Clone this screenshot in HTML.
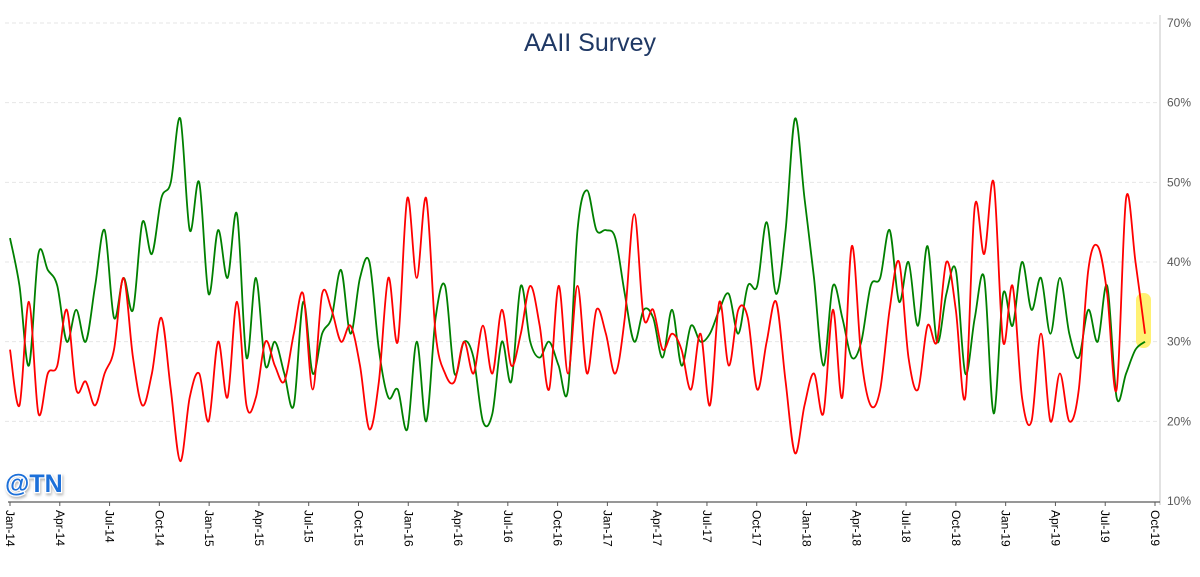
<!DOCTYPE html>
<html><head><meta charset="utf-8">
<style>
html,body{margin:0;padding:0;background:#fff;}
svg{display:block;font-family:"Liberation Sans",sans-serif;}
</style></head>
<body>
<svg id="chart" width="1200" height="577" viewBox="0 0 1200 577">
<defs><filter id="sh" x="-10%" y="-10%" width="130%" height="140%"><feDropShadow dx="1" dy="2" stdDeviation="1.2" flood-color="#888" flood-opacity="0.6"/></filter></defs>
<text x="590" y="51" text-anchor="middle" font-size="25" fill="#1f3864">AAII Survey</text>
<line x1="1160" y1="15" x2="1160" y2="505" stroke="#d9d9d9" stroke-width="1.5"/>
<g id="grid"></g>
<g id="yticks"></g>
<line x1="8" y1="502" x2="1160" y2="502" stroke="#595959" stroke-width="1.3"/>
<g id="xticks"></g>
<rect x="1136" y="293" width="15" height="55" rx="7" fill="#ffef5a" opacity="0.85"/>
<path id="greenLine" fill="none" stroke="#008000" stroke-width="1.8"/>
<path id="redLine" fill="none" stroke="#ff0000" stroke-width="1.8"/>
<text x="5" y="492" font-size="25" font-weight="bold" fill="#1e6fd9" stroke="#fff" stroke-width="2.5" paint-order="stroke" filter="url(#sh)">@TN</text>
</svg>
<script>
const yTickValues = [10,20,30,40,50,60,70];
const xTickLabels = ["Jan-14","Apr-14","Jul-14","Oct-14","Jan-15","Apr-15","Jul-15","Oct-15","Jan-16","Apr-16","Jul-16","Oct-16","Jan-17","Apr-17","Jul-17","Oct-17","Jan-18","Apr-18","Jul-18","Oct-18","Jan-19","Apr-19","Jul-19","Oct-19"];
const bullish = [43,37,27,41,39,37,30,34,30,37,44,33,38,34,45,41,48,50,58,44,50,36,44,38,46,28,38,27,30,26,22,35,26,31,33,39,31,38,40,29,23,24,19,30,20,33,37,26,30,28,20,21,30,25,37,30,28,30,27,24,44,49,44,44,43,36,30,34,33,28,34,27,32,30,31,34,36,31,37,37,45,36,44,58,48,38,27,37,33,28,30,37,38,44,35,40,32,42,30,36,39,26,33,38,21,36,32,40,34,38,31,38,31,28,34,30,37,23,26,29,30];
const bearish = [29,22,35,21,26,27,34,24,25,22,26,29,38,28,22,26,33,24,15,23,26,20,30,23,35,22,23,30,27,25,31,36,24,36,34,30,32,27,19,25,38,30,48,38,48,31,26,25,30,26,32,26,34,27,31,37,32,24,37,26,37,26,34,31,26,33,46,33,34,29,31,29,24,31,22,35,27,34,33,24,30,35,25,16,22,26,21,34,23,42,28,22,24,34,40,28,24,32,30,40,34,23,47,41,50,30,37,23,20,31,20,26,20,24,39,42,36,24,48,40,31];

const X0=10, X1=1145;
function yScale(v){return 501-(v-10)*(478/60);}
function xIndex(i,n){return X0+i*(X1-X0)/(n-1);}
const NS="http://www.w3.org/2000/svg";
const grid=document.getElementById('grid'), yt=document.getElementById('yticks'), xt=document.getElementById('xticks');
yTickValues.forEach(v=>{
  const y=yScale(v);
  if(v>10){
    const l=document.createElementNS(NS,'line');
    l.setAttribute('x1',5);l.setAttribute('x2',1160);l.setAttribute('y1',y);l.setAttribute('y2',y);
    l.setAttribute('stroke','#e6e6e6');l.setAttribute('stroke-dasharray','4,3');
    
    
    grid.appendChild(l);
  }
  const t=document.createElementNS(NS,'text');
  t.setAttribute('x',1167);t.setAttribute('y',y+4);t.setAttribute('font-size','12');t.setAttribute('fill','#595959');
  t.textContent=v+'%';
  
  
  yt.appendChild(t);
});
const xStep=(1155-10)/(xTickLabels.length-1);
xTickLabels.forEach((lab,i)=>{
  const x=10+i*xStep;
  const m=document.createElementNS(NS,'line');
  m.setAttribute('x1',x);m.setAttribute('x2',x);m.setAttribute('y1',502);m.setAttribute('y2',506);
  m.setAttribute('stroke','#595959');
  
  
  xt.appendChild(m);
  const t=document.createElementNS(NS,'text');
  t.setAttribute('transform','translate('+(x-4)+',510) rotate(90)');
  t.setAttribute('text-anchor','start');t.setAttribute('font-size','12');t.setAttribute('fill','#000');
  t.textContent=lab;
  
  
  xt.appendChild(t);
});
function smoothPath(arr){
  const n=arr.length, p=arr.map((v,i)=>[xIndex(i,n),yScale(v)]);
  let d='M'+p[0][0]+','+p[0][1];
  for(let i=0;i<n-1;i++){
    const a=p[Math.max(0,i-1)],b=p[i],c=p[i+1],e=p[Math.min(n-1,i+2)];
    const c1=[b[0]+(c[0]-a[0])/6,b[1]+(c[1]-a[1])/6], c2=[c[0]-(e[0]-b[0])/6,c[1]-(e[1]-b[1])/6];
    d+=' C'+c1[0].toFixed(1)+','+c1[1].toFixed(1)+' '+c2[0].toFixed(1)+','+c2[1].toFixed(1)+' '+c[0].toFixed(1)+','+c[1].toFixed(1);
  }
  return d;
}
document.getElementById('greenLine').setAttribute('d',smoothPath(bullish));
document.getElementById('redLine').setAttribute('d',smoothPath(bearish));
</script>
</body></html>
